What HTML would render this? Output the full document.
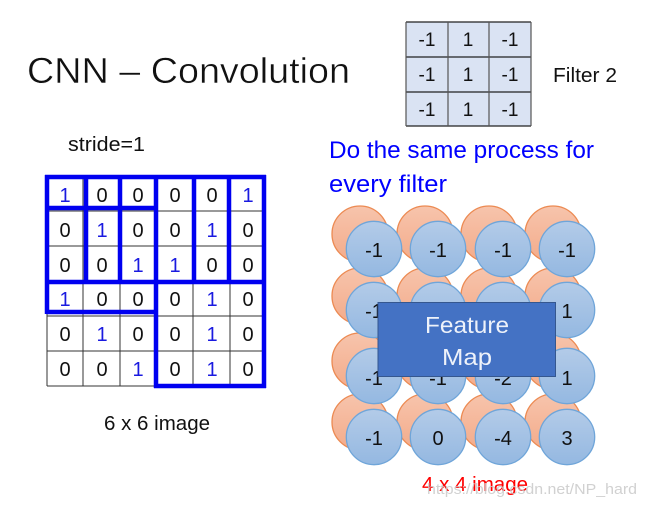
<!DOCTYPE html>
<html>
<head>
<meta charset="utf-8">
<style>
html,body{margin:0;padding:0;background:#fff;width:645px;height:506px;overflow:hidden}
svg{display:block;filter:blur(.3px)}
text{font-family:"Liberation Sans",sans-serif}
</style>
</head>
<body>
<svg width="645" height="506" viewBox="0 0 645 506" xmlns="http://www.w3.org/2000/svg">
<defs>
<linearGradient id="o" x1="0" y1="0" x2="0" y2="1"><stop offset="0" stop-color="#f7c4ac"/><stop offset="1" stop-color="#f3ab8a"/></linearGradient>
<linearGradient id="b" x1="0" y1="0" x2="0" y2="1"><stop offset="0" stop-color="#b3cbe8"/><stop offset="1" stop-color="#94b8e1"/></linearGradient>
</defs>

<text x="27" y="83" font-size="36" fill="#111" stroke="#fff" stroke-width=".45" textLength="323" lengthAdjust="spacingAndGlyphs">CNN – Convolution</text>

<!-- Filter -->
<rect x="406" y="22" width="125" height="104" fill="#dae3f3"/>
<g stroke="#222" stroke-width="1.2" fill="none">
<path d="M406 22H531M406 57H531M406 92H531M406 126H531"/>
<path d="M406 22V126M448 22V126M489 22V126M531 22V126" stroke="#555"/>
</g>
<g font-size="19" fill="#111" text-anchor="middle">
<text x="427" y="46">-1</text><text x="468" y="46">1</text><text x="510" y="46">-1</text>
<text x="427" y="81">-1</text><text x="468" y="81">1</text><text x="510" y="81">-1</text>
<text x="427" y="116">-1</text><text x="468" y="116">1</text><text x="510" y="116">-1</text>
</g>
<text x="553" y="82" font-size="20" fill="#111" textLength="64" lengthAdjust="spacingAndGlyphs">Filter 2</text>

<text x="68" y="151" font-size="20" fill="#111" textLength="77" lengthAdjust="spacingAndGlyphs">stride=1</text>

<text x="329" y="158" font-size="24" fill="#0000ff" textLength="265" lengthAdjust="spacingAndGlyphs">Do the same process for</text>
<text x="329" y="192" font-size="24" fill="#0000ff" textLength="118" lengthAdjust="spacingAndGlyphs">every filter</text>

<!-- Image grid -->
<g stroke="#333" stroke-width="1" fill="none">
<path d="M47 177H264M47 211H264M47 246H264M47 282H264M47 316H264M47 351H264M47 386H264"/>
<path d="M47 177V386M83 177V386M120 177V386M157 177V386M193 177V386M230 177V386M264 177V386"/>
</g>
<g font-size="20" text-anchor="middle" fill="#111">
<text x="65" y="202" fill="#1a1ae0">1</text><text x="102" y="202">0</text><text x="138" y="202">0</text><text x="175" y="202">0</text><text x="212" y="202">0</text><text x="248" y="202" fill="#1a1ae0">1</text>
<text x="65" y="237">0</text><text x="102" y="237" fill="#1a1ae0">1</text><text x="138" y="237">0</text><text x="175" y="237">0</text><text x="212" y="237" fill="#1a1ae0">1</text><text x="248" y="237">0</text>
<text x="65" y="272">0</text><text x="102" y="272">0</text><text x="138" y="272" fill="#1a1ae0">1</text><text x="175" y="272" fill="#1a1ae0">1</text><text x="212" y="272">0</text><text x="248" y="272">0</text>
<text x="65" y="306" fill="#1a1ae0">1</text><text x="102" y="306">0</text><text x="138" y="306">0</text><text x="175" y="306">0</text><text x="212" y="306" fill="#1a1ae0">1</text><text x="248" y="306">0</text>
<text x="65" y="341">0</text><text x="102" y="341" fill="#1a1ae0">1</text><text x="138" y="341">0</text><text x="175" y="341">0</text><text x="212" y="341" fill="#1a1ae0">1</text><text x="248" y="341">0</text>
<text x="65" y="376">0</text><text x="102" y="376">0</text><text x="138" y="376" fill="#1a1ae0">1</text><text x="175" y="376">0</text><text x="212" y="376" fill="#1a1ae0">1</text><text x="248" y="376">0</text>
</g>
<g stroke="#0000f0" stroke-width="4.5" fill="none">
<path d="M45 177H266M47 208H156M45 282H266M47 312H158"/>
<path d="M47 175V314M86 177V282M120 177V282M156 177V388M194 177V282M229 177V282M264 175V388M154 386H266"/>
</g>

<text x="157" y="430" font-size="20" fill="#111" text-anchor="middle" textLength="106" lengthAdjust="spacingAndGlyphs">6 x 6 image</text>

<!-- Orange circles -->
<g fill="url(#o)" stroke="#ec8a52" stroke-width="1.3">
<circle cx="360" cy="234" r="28"/><circle cx="425" cy="234" r="28"/><circle cx="489" cy="234" r="28"/><circle cx="553" cy="234" r="28"/>
<circle cx="360" cy="296" r="28"/><circle cx="425" cy="296" r="28"/><circle cx="489" cy="296" r="28"/><circle cx="553" cy="296" r="28"/>
<circle cx="360" cy="361" r="28"/><circle cx="425" cy="361" r="28"/><circle cx="489" cy="361" r="28"/><circle cx="553" cy="361" r="28"/>
<circle cx="360" cy="422" r="28"/><circle cx="425" cy="422" r="28"/><circle cx="489" cy="422" r="28"/><circle cx="553" cy="422" r="28"/>
</g>
<!-- Blue circles -->
<g fill="url(#b)" stroke="#6fa5d9" stroke-width="1.3">
<circle cx="374" cy="249" r="27.7"/><circle cx="438" cy="249" r="27.7"/><circle cx="503" cy="249" r="27.7"/><circle cx="567" cy="249" r="27.7"/>
<circle cx="374" cy="310" r="27.7"/><circle cx="438" cy="310" r="27.7"/><circle cx="503" cy="310" r="27.7"/><circle cx="567" cy="310" r="27.7"/>
<circle cx="374" cy="376" r="27.7"/><circle cx="438" cy="376" r="27.7"/><circle cx="503" cy="376" r="27.7"/><circle cx="567" cy="376" r="27.7"/>
<circle cx="374" cy="437" r="27.7"/><circle cx="438" cy="437" r="27.7"/><circle cx="503" cy="437" r="27.7"/><circle cx="567" cy="437" r="27.7"/>
</g>
<g font-size="20" fill="#111" text-anchor="middle">
<text x="374" y="257">-1</text><text x="438" y="257">-1</text><text x="503" y="257">-1</text><text x="567" y="257">-1</text>
<text x="374" y="318">-1</text><text x="567" y="318">1</text>
<text x="374" y="385">-1</text><text x="438" y="385">-1</text><text x="503" y="385">-2</text><text x="567" y="385">1</text>
<text x="374" y="445">-1</text><text x="438" y="445">0</text><text x="503" y="445">-4</text><text x="567" y="445">3</text>
</g>

<rect x="378" y="302.5" width="177.5" height="74" fill="#4472c4" stroke="#35578f" stroke-width="1"/>
<text x="467" y="333" font-size="23" fill="#eef2fa" text-anchor="middle" textLength="84" lengthAdjust="spacingAndGlyphs">Feature</text>
<text x="467" y="365" font-size="23" fill="#eef2fa" text-anchor="middle" textLength="50" lengthAdjust="spacingAndGlyphs">Map</text>

<text x="422" y="491" font-size="20" fill="#ff0000" textLength="106" lengthAdjust="spacingAndGlyphs">4 x 4 image</text>
<text x="427" y="494" font-size="15" fill="#c9c9c9" fill-opacity=".85" textLength="210" lengthAdjust="spacingAndGlyphs">https://blog.csdn.net/NP_hard</text>
</svg>
</body>
</html>
